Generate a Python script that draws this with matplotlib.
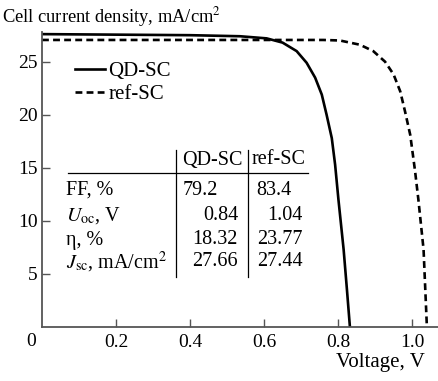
import matplotlib
matplotlib.use("Agg")
import matplotlib.pyplot as plt

plt.rcParams['font.family'] = ['Liberation Serif', 'DejaVu Serif']
plt.rcParams['mathtext.fontset'] = 'stix'

# J-V curves (V, mA/cm2)
qd_v = [0.0, 0.2, 0.4, 0.535, 0.607, 0.65, 0.688, 0.715, 0.738, 0.756, 0.769,
        0.783, 0.792, 0.801, 0.815, 0.824, 0.832]
qd_j = [27.6, 27.55, 27.5, 27.4, 27.2, 26.8, 26.0, 24.9, 23.5, 21.9, 20.0,
        17.8, 15.3, 12.0, 7.3, 3.5, 0.0]
ref_v = [0.0, 0.4, 0.76, 0.805, 0.859, 0.895, 0.927, 0.95, 0.968, 0.981, 0.995,
         1.008, 1.017, 1.031, 1.04]
ref_j = [27.05, 27.05, 27.05, 27.0, 26.6, 26.0, 25.0, 23.8, 22.2, 20.3, 18.1,
         14.7, 12.0, 7.3, 0.0]

xtick_vals = [0.2, 0.4, 0.6, 0.8, 1.0]
xtick_labels = ["0.2", "0.4", "0.6", "0.8", "1.0"]
ytick_vals = [5, 10, 15, 20, 25]

# summary table
col_heads = ["QD-SC", "ref-SC"]
row_names = ["FF, %", r"$U_{\rm oc}$, V", "η, %", r"$J_{\rm sc}$, mA/cm$^2$"]
qd_params = ["79.2", "0.84", "18.32", "27.66"]
ref_params = ["83.4", "1.04", "23.77", "27.44"]

W, H = 438, 381
fig = plt.figure(figsize=(W / 100, H / 100), dpi=100)
ax = fig.add_axes([42 / W, 54 / H, 1 - 42 / W, (327 - 32) / H])

ax.plot(qd_v, qd_j, color='black', lw=1.9, label='QD-SC')
ax.plot(ref_v, ref_j, color='black', lw=1.9, ls=(0, (2.6, 1.6)), label='ref-SC')

ax.set_xlim(0, 1.07)
ax.set_ylim(0, 27.8)
for s in ['top', 'right']:
    ax.spines[s].set_visible(False)
for s in ['left', 'bottom']:
    ax.spines[s].set_color('#555555')
    ax.spines[s].set_linewidth(1.3)

ax.set_xticks(xtick_vals)
ax.set_xticklabels(xtick_labels)
ax.set_yticks(ytick_vals)
ax.tick_params(direction='in', length=6, width=1, color='#555555',
               labelsize=14, pad=5)
ax.tick_params(axis='y', pad=3)
ax.text(-0.03, -0.6, "0", transform=ax.transData, ha='center', va='top',
        fontsize=14, clip_on=False)

fig.text(2 / W, 1 - 17 / H, "Cell current density, mA/cm$^2$", fontsize=13.3,
         va='center', ha='left')
fig.text(425 / W, 1 - 362 / H, "Voltage, V", fontsize=15, va='center', ha='right')

ax.legend(loc='upper left', bbox_to_anchor=(0.083, 0.90), frameon=False,
          fontsize=15, handlelength=1.45, handletextpad=0.15, labelspacing=0.15,
          borderaxespad=0, borderpad=0)

# table drawn in figure pixel coordinates
def fx(px):
    return px / W

def fy(py):
    return 1 - py / H

fig.add_artist(plt.Line2D([fx(176), fx(176)], [fy(150), fy(277)], color='black', lw=0.9))
fig.add_artist(plt.Line2D([fx(248), fx(248)], [fy(150), fy(277)], color='black', lw=0.9))
fig.add_artist(plt.Line2D([fx(68), fx(308)], [fy(173), fy(173)], color='black', lw=0.9))
fig.text(fx(212), fy(160), col_heads[0], fontsize=14.5, ha='center', va='center')
fig.text(fx(279), fy(160), col_heads[1], fontsize=14.5, ha='center', va='center')
row_y = [190, 216, 240, 262]
for i, name in enumerate(row_names):
    fig.text(fx(66), fy(row_y[i]), name, fontsize=14.5, ha='left', va='center')
    if i == 0:
        fig.text(fx(183), fy(row_y[i]), qd_params[i], fontsize=14.5, ha='left', va='center')
        fig.text(fx(256), fy(row_y[i]), ref_params[i], fontsize=14.5, ha='left', va='center')
    else:
        fig.text(fx(238), fy(row_y[i]), qd_params[i], fontsize=14.5, ha='right', va='center')
        fig.text(fx(303), fy(row_y[i]), ref_params[i], fontsize=14.5, ha='right', va='center')

fig.savefig("out.png", dpi=100)
